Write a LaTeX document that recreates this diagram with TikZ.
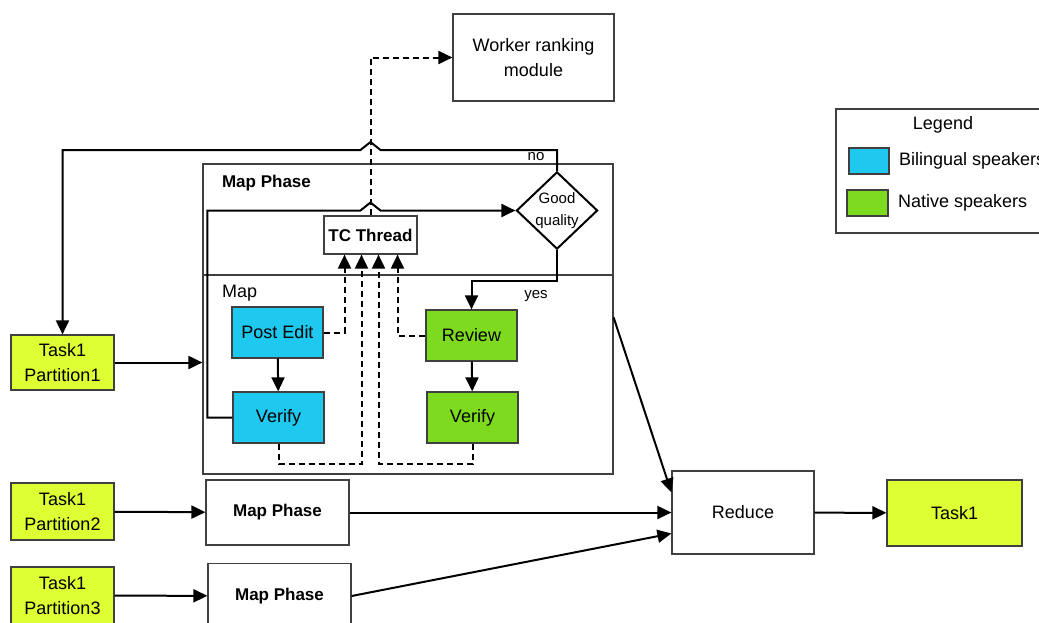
\documentclass[tikz,border=0pt]{standalone}
\usepackage{fontspec}
\setmainfont{Liberation Sans}
\usetikzlibrary{arrows.meta,shapes.geometric}
\definecolor{bilingual}{RGB}{30,200,238}
\definecolor{native}{RGB}{126,218,30}
\definecolor{taskcol}{RGB}{221,255,51}
\begin{document}
\begin{tikzpicture}[x=0.5pt,y=-0.5pt,
    every node/.style={font=\fontsize{9}{12.5}\selectfont},
    box/.style={draw=black!75, line width=0.6pt, align=center, inner sep=1pt},
    conn/.style={line width=1pt, -{Triangle[length=7pt,width=6.5pt]}},
    dconn/.style={conn, dash pattern=on 3pt off 2pt},
    lbl/.style={font=\fontsize{7.5}{8}\selectfont, inner sep=0pt}]
  \useasboundingbox (0,0) rectangle (1039,622);
  \node [box, minimum width=80.5pt, minimum height=43.5pt] (wrm) at (533.5,57.5) {Worker ranking\\module};
  \node [box, minimum width=112pt, minimum height=62pt] (legend) at (948,171) {};
  \node (legtitle) at (943,125) {Legend};
  \node [box, fill=bilingual, minimum width=20pt, minimum height=13pt] (legbl) at (869,161) {};
  \node [anchor=west] (legbltxt) at (892,161) {Bilingual speakers};
  \node [box, fill=native, minimum width=20.5pt, minimum height=13pt] (leggr) at (867.5,203) {};
  \node [anchor=west] (leggrtxt) at (891,203) {Native speakers};
  \node [box, minimum width=205pt, minimum height=55.5pt] (phase) at (408,219.5) {};
  \node [box, minimum width=205pt, minimum height=99.5pt] (mapin) at (408,374.5) {};
  \node [anchor=west, font=\bfseries\fontsize{8.5}{10}\selectfont] (phaselbl) at (215,183) {Map Phase};
  \node [anchor=west] (maplbl) at (215,293) {Map};
  \node [box, font=\bfseries\fontsize{8.5}{10}\selectfont, minimum width=46.5pt, minimum height=19pt] (tc) at (370.5,235) {TC Thread};
  \node [diamond, draw, line width=1pt, align=center, inner sep=0pt, aspect=1.05,
    font=\fontsize{7.5}{11}\selectfont] (good) at (557,210.5) {Good\\quality};
  \node [box, fill=bilingual, minimum width=45.5pt, minimum height=25.5pt] (pe) at (277.5,332.5) {Post Edit};
  \node [box, fill=bilingual, minimum width=45.5pt, minimum height=25.5pt] (vb) at (278.5,417.5) {Verify};
  \node [box, fill=native, minimum width=45.5pt, minimum height=25.5pt] (rv) at (471.5,335.5) {Review};
  \node [box, fill=native, minimum width=45.5pt, minimum height=25.5pt] (vg) at (472.5,417.5) {Verify};
  \node [box, fill=taskcol, minimum width=51.5pt, minimum height=27.5pt] (p1) at (62.5,362.5) {Task1\\Partition1};
  \node [box, fill=taskcol, minimum width=51.5pt, minimum height=28.5pt] (p2) at (62.5,511.5) {Task1\\Partition2};
  \node [box, fill=taskcol, minimum width=51.5pt, minimum height=28.5pt] (p3) at (62.5,595.5) {Task1\\Partition3};
  \node [box, font=\bfseries\fontsize{8.5}{10}\selectfont, minimum width=71.5pt, minimum height=32.5pt] (mp2) at (277.5,512.5) {Map Phase};
  \node [box, font=\bfseries\fontsize{8.5}{10}\selectfont, minimum width=71.5pt, minimum height=32.5pt] (mp3) at (279.5,596) {Map Phase};
  \node [box, minimum width=71pt, minimum height=41.5pt] (reduce) at (743,512.5) {Reduce};
  \node [box, fill=taskcol, minimum width=67.5pt, minimum height=33pt] (task) at (954.5,513) {Task1};
  \coordinate (jumpno) at (tc.north |- 0,150);
  \coordinate (jumpq) at (tc.north |- good.west);
  \draw [dconn] (tc.north) |- (wrm.west);
  \draw [conn] (good.north) |- ([xshift=5pt]jumpno) -- ([yshift=4pt]jumpno)
    -- ([xshift=-5pt]jumpno) -| (p1.north);
  \node [lbl] (nolbl) at (536,157) {no};
  \draw [conn] (vb.west) -- ++(-25,0) |- ([xshift=-5pt]jumpq) -- ([yshift=4pt]jumpq)
    -- ([xshift=5pt]jumpq) -- (good.west);
  \draw [conn] (good.south) -- ++(0,31) -| (rv.north);
  \node [lbl] (yeslbl) at (536,296) {yes};
  \draw [conn] (pe) -- (vb);
  \draw [conn] (rv) -- (vg);
  \draw [dconn] (pe.east) -| ([xshift=-13pt]tc.south);
  \draw [dconn] (vb.south) -- ++(0,20) -| ([xshift=-4.5pt]tc.south);
  \draw [dconn] (vg.south) -- ++(0,20) -| ([xshift=4pt]tc.south);
  \draw [dconn] (rv.west) -| ([xshift=13.5pt]tc.south);
  \draw [conn] (p1.east) -- (p1.east -| mapin.west);
  \foreach \a/\b in {p2/mp2,p3/mp3,mp2/reduce,reduce/task}
    \draw [conn] (\a) -- (\b);
  \draw [conn] (mp3.east) -- ([yshift=-10.5pt]reduce.west);
  \draw [conn] ([yshift=-21.5pt]mapin.north east) -- ([yshift=-11pt]reduce.north west);
\end{tikzpicture}
\end{document}
